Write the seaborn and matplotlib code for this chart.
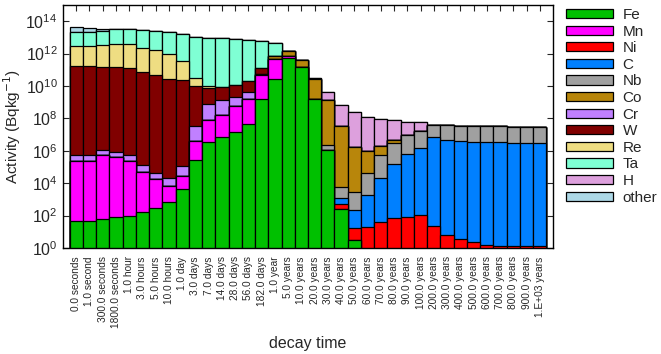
import numpy as np
import matplotlib
matplotlib.use("Agg")
import matplotlib.pyplot as plt
from matplotlib.patches import Patch
from matplotlib.ticker import NullLocator, FixedLocator
import seaborn as sns

# Decay times after shutdown
times = ["0.0 seconds", "1.0 second", "300.0 seconds", "1800.0 seconds", "1.0 hour",
         "3.0 hours", "5.0 hours", "10.0 hours", "1.0 day", "3.0 days", "7.0 days",
         "14.0 days", "28.0 days", "56.0 days", "182.0 days", "1.0 year", "5.0 years",
         "10.0 years", "20.0 years", "30.0 years", "40.0 years", "50.0 years",
         "60.0 years", "70.0 years", "80.0 years", "90.0 years", "100.0 years",
         "200.0 years", "300.0 years", "400.0 years", "500.0 years", "600.0 years",
         "700.0 years", "800.0 years", "900.0 years", "1.E+03 years"]

# Specific activity (Bq/kg) contributed by each element
Fe = [49, 49, 65, 78, 90, 166, 280, 720, 4.2e3, 2.7e5, 3.3e6, 6.7e6, 1.4e7, 4.6e7,
      1.6e9, 2.6e10, 5.2e11, 1.4e11, 1.6e9, 1.05e6, 267, 3.3,
      0, 0, 0, 0, 0, 0, 0, 0, 0, 0, 0, 0, 0, 0]
Mn = [2.4e5, 2.4e5, 5.2e5, 3.9e5, 2.2e5, 5.1e4, 1.8e4, 6.3e3, 2.2e4, 3.5e6, 7.1e7,
      1.6e8, 5.4e8, 1.45e9, 4.7e10, 4.7e11, 2.4e11,
      0, 0, 0, 0, 0, 0, 0, 0, 0, 0, 0, 0, 0, 0, 0, 0, 0, 0, 0]
Ni = [0, 0, 0, 0, 0, 0, 0, 0, 0, 0, 0, 0, 0, 0, 0, 0, 0, 0, 0, 0,
      270, 14, 19, 40, 67, 86, 103, 24, 6.6, 3.6, 2.2, 1.6, 1.4, 1.3, 1.3, 1.3]
C = [0, 0, 0, 0, 0, 0, 0, 0, 0, 0, 0, 0, 0, 0, 0, 0, 0, 0, 0, 0,
     760, 213, 1.8e3, 2.1e4, 1.5e5, 6.3e5, 1.5e6, 6.7e6, 4.8e6, 3.8e6, 3.4e6,
     3.3e6, 3.3e6, 3.0e6, 3.0e6, 3.0e6]
Nb = [0, 0, 0, 0, 0, 0, 0, 0, 0, 0, 0, 0, 0, 0, 0, 0, 0, 0, 0,
      1.3e6, 4.2e3, 2.8e3, 4.0e4, 5.0e5, 2.85e6, 9.1e6, 1.55e7, 3.3e7, 3.3e7, 3.1e7,
      2.9e7, 2.9e7, 2.9e7, 2.7e7, 2.7e7, 2.7e7]
Co = [0, 0, 0, 0, 0, 0, 0, 0, 0, 0, 0, 0, 0, 0,
      1.0e10, 2.2e11, 7.9e11, 2.5e11, 2.6e10, 1.4e9, 3.2e7, 1.7e6, 8.7e5, 1.4e6, 1.6e6,
      0, 0, 0, 0, 0, 0, 0, 0, 0, 0, 0]
Cr = [3.3e5, 3.5e5, 6.8e5, 4.0e5, 3.0e5, 8.0e4, 2.6e4, 1.4e4, 8.4e4, 2.8e7, 7.3e8,
      1.3e9, 1.6e9, 2.7e9,
      0, 0, 0, 0, 0, 0, 0, 0, 0, 0, 0, 0, 0, 0, 0, 0, 0, 0, 0, 0, 0, 0]
W = [1.6e11, 1.6e11, 1.45e11, 1.5e11, 1.3e11, 7.5e10, 4.9e10, 2.9e10, 2.2e10, 1.0e10,
     6.6e9, 7.8e9, 1.0e10, 1.5e10, 8.0e10,
     0, 0, 0, 0, 0, 0, 0, 0, 0, 0, 0, 0, 0, 0, 0, 0, 0, 0, 0, 0, 0]
Re = [2.9e12, 2.9e12, 3.25e12, 4.05e12, 3.7e12, 2.3e12, 1.65e12, 8.9e11, 3.4e11,
      2.3e10, 3.3e9,
      0, 0, 0, 0, 0, 0, 0, 0, 0, 0, 0, 0, 0, 0, 0, 0, 0, 0, 0, 0, 0, 0, 0, 0, 0]
Ta = [1.8e13, 1.8e13, 2.3e13, 2.8e13, 2.8e13, 2.7e13, 2.3e13, 2.0e13, 1.7e13, 1.1e13,
      8.9e12, 8.9e12, 8.1e12, 7.4e12, 5.7e12, 3.7e12,
      0, 0, 0, 0, 0, 0, 0, 0, 0, 0, 0, 0, 0, 0, 0, 0, 0, 0, 0, 0]
H = [0, 0, 0, 0, 0, 0, 0, 0, 0, 0, 0, 0, 0, 0, 0, 0, 0, 0,
     5.0e9, 2.6e9, 6.6e8, 2.3e8, 1.3e8, 8.8e7, 7.0e7, 4.9e7, 3.9e7, 2.0e6,
     0, 0, 0, 0, 0, 0, 0, 0]
other = [2.1e13, 1.9e13, 7.0e12, 3.0e12, 1.0e12, 5.0e11, 3.0e11,
         0, 0, 0, 0, 0, 0, 0, 0, 0, 0, 0, 0, 0, 0, 0, 0, 0, 0, 0, 0, 0, 0, 0,
         0, 0, 0, 0, 0, 0]

elements = ["Fe", "Mn", "Ni", "C", "Nb", "Co", "Cr", "W", "Re", "Ta", "H", "other"]
series = [Fe, Mn, Ni, C, Nb, Co, Cr, W, Re, Ta, H, other]
colors = ["#00c000", "#ff00ff", "#ff0000", "#0080ff", "#a0a0a0", "#b8860b",
          "#c080ff", "#800000", "#eedd82", "#7fffd4", "#dda0dd", "#add8e6"]

sns.set_style("ticks")
plt.rcParams["font.family"] = ["Liberation Sans", "DejaVu Sans"]
plt.rcParams["axes.linewidth"] = 1.0

fig = plt.figure(figsize=(6.61, 3.54), dpi=100)
ax = fig.add_axes([63 / 661, 1 - 248 / 354, 490 / 661, 243 / 354])
ax.set_yscale("log")

# Stack on a log axis: draw the cumulative totals from the top down so that
# each lower level is painted over the one above it.
cum = np.cumsum(np.array(series, dtype=float), axis=0)
for name, color, top in reversed(list(zip(elements, colors, cum))):
    vals = np.where(top > 0, top, np.nan)
    sns.barplot(x=times, y=vals, order=times, color=color, saturation=1,
                width=1.0, edgecolor="black", linewidth=0.9, errorbar=None, ax=ax)

ax.set_xlim(-1, len(times))
ax.set_ylim(1, 1e15)
ax.yaxis.set_major_locator(FixedLocator([10.0 ** k for k in range(0, 15, 2)]))
ax.yaxis.set_minor_locator(NullLocator())
ax.tick_params(axis="y", which="major", left=True, right=True, direction="in",
               length=4, width=0.8, labelsize=11.5, pad=4)
ax.set_xticks(range(len(times)))
ax.set_xticklabels(times, rotation=90, fontsize=7.3)
ax.tick_params(axis="x", which="major", bottom=False, top=True, direction="in",
               length=4, width=0.8, pad=6)
for s in ax.spines.values():
    s.set_color("black")
    s.set_linewidth(1.0)

ax.set_xlabel("decay time", fontsize=11.5, labelpad=6)
ax.set_ylabel("Activity (Bqkg$^{-1}$)", fontsize=11, labelpad=2)

handles = [Patch(facecolor=c, edgecolor="black", linewidth=0.9, label=n)
           for n, c in zip(elements, colors)]
fig.legend(handles=handles, loc="upper left", bbox_to_anchor=(566 / 661, 1 - 8 / 354),
           frameon=False, fontsize=11, handlelength=3.1, handleheight=0.55,
           handletextpad=0.6, labelspacing=0.17, borderpad=0, borderaxespad=0)

fig.savefig("out.png", dpi=100)
